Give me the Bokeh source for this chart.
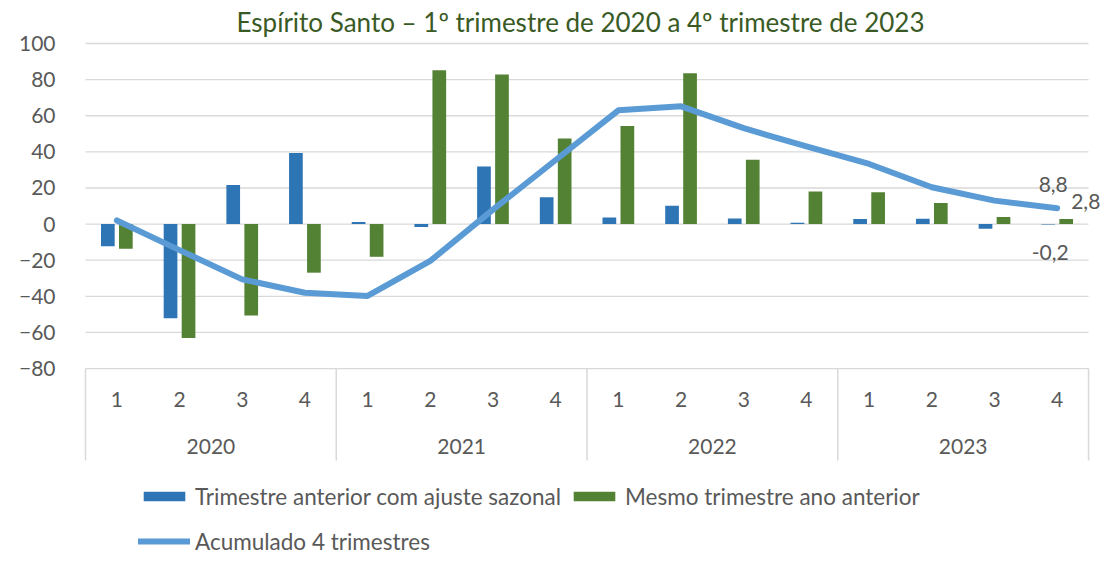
import numpy as np
from bokeh.plotting import figure
from bokeh.models import Range1d, FixedTicker, Legend, LegendItem, Label
from bokeh.core.properties import value
from bokeh.embed import file_html
from bokeh.resources import INLINE

# ---------------- data ----------------
years = ["2020", "2021", "2022", "2023"]
quarters = ["1", "2", "3", "4"]
tri_anterior = [-12.2, -52.2, 21.7, 39.3,
                1.1, -1.6, 31.9, 14.8,
                3.7, 10.2, 3.1, 0.7,
                2.8, 3.0, -2.6, -0.2]
mesmo_tri = [-13.7, -63.0, -50.6, -26.9,
             -18.1, 85.2, 82.8, 47.4,
             54.3, 83.5, 35.7, 18.1,
             17.6, 11.7, 4.0, 2.8]
acumulado = [2.0, -14.4, -30.6, -38.0,
             -39.8, -20.4, 8.0, 35.5,
             63.0, 65.2, 53.1, 43.0,
             33.3, 20.4, 13.0, 8.8]
y_ticks = [-80, -60, -40, -20, 0, 20, 40, 60, 80, 100]
series_names = ["Trimestre anterior com ajuste sazonal",
                "Mesmo trimestre ano anterior",
                "Acumulado 4 trimestres"]
title_text = "Espírito Santo – 1º trimestre de 2020 a 4º trimestre de 2023"

# ---------------- style ----------------
BLUE = "#2E75B6"
GREEN = "#548235"
LINE = "#5B9BD5"
TXT = "#595959"
GRID = "#D9D9D9"
FONT = "Lato"
PX_PER_UNIT = 1.806      # vertical pixels per value unit
PX_PER_CAT = 62.69       # horizontal pixels per category

n_q = len(quarters)
n = len(years) * n_q
xs = np.arange(1, n + 1)
cat_labels = [q for _ in years for q in quarters]

W, H = 1103, 566
top_border, left_border, right_border = 38, 82, 0
frame_h = H - top_border
frame_w = W - left_border - right_border

y_min_tick = min(y_ticks)
y_end = max(y_ticks) + 5 / PX_PER_UNIT
y_start = y_end - frame_h / PX_PER_UNIT
x_start = 0.5 - 3 / PX_PER_CAT
x_end = x_start + frame_w / PX_PER_CAT

# positions below the -80 axis line (layout, in value units)
q_label_y = y_min_tick - 31 / PX_PER_UNIT
yr_label_y = y_min_tick - 78 / PX_PER_UNIT
sep_bottom = y_min_tick - 92 / PX_PER_UNIT

p = figure(width=W, height=H, output_backend="svg", toolbar_location=None,
           x_range=Range1d(x_start, x_end), y_range=Range1d(y_start, y_end),
           x_axis_location=None, min_border_top=top_border,
           min_border_left=left_border, min_border_right=right_border,
           min_border_bottom=0)
p.outline_line_color = None
p.background_fill_color = "white"
p.border_fill_color = "white"

p.title.text = title_text
p.title.align = "left"
p.title.offset = 154
p.title.text_font = FONT
p.title.text_font_size = "26px"
p.title.text_font_style = "normal"
p.title.text_color = "#3A5A25"
p.title.standoff = 2

p.xgrid.visible = False
p.ygrid.visible = False
# horizontal gridlines spanning the category area
p.segment(x0=[0.5] * len(y_ticks), y0=y_ticks, x1=[n + 0.5] * len(y_ticks), y1=y_ticks,
          line_color=GRID, line_width=1.3)

yax = p.yaxis[0]
yax.ticker = FixedTicker(ticks=y_ticks)
yax.axis_line_color = None
yax.major_tick_line_color = None
yax.minor_tick_line_color = None
yax.major_label_standoff = 21
yax.major_label_text_font = FONT
yax.major_label_text_font_size = "21px"
yax.major_label_text_color = TXT

bar_w = 13.7 / PX_PER_CAT
off = 9 / PX_PER_CAT
r_blue = p.vbar(x=xs - off, top=tri_anterior, bottom=0, width=bar_w,
                fill_color=BLUE, line_color=None)
r_green = p.vbar(x=xs + off, top=mesmo_tri, bottom=0, width=bar_w,
                 fill_color=GREEN, line_color=None)
r_line = p.line(x=xs, y=acumulado, line_color=LINE, line_width=6,
                line_join="round", line_cap="round")

# category axis: separators, quarter & year labels
seps = [0.5 + i * n_q for i in range(len(years) + 1)]
p.segment(x0=seps, y0=[y_min_tick] * len(seps), x1=seps, y1=[sep_bottom] * len(seps),
          line_color=GRID, line_width=1.5)
p.text(x=xs, y=[q_label_y] * n, text=cat_labels, text_align="center",
       text_baseline="middle", text_font=value(FONT), text_font_size="21px",
       text_color=TXT)
yr_x = [n_q * i + (n_q + 1) / 2 for i in range(len(years))]
p.text(x=yr_x, y=[yr_label_y] * len(years), text=years, text_align="center",
       text_baseline="middle", text_font=value(FONT), text_font_size="21px",
       text_color=TXT)

# end data labels
def fmt(v):
    return f"{v:.1f}".replace(".", ",")

lab_kw = dict(text_font=FONT, text_font_size="21px", text_color=TXT,
              text_baseline="middle")
p.add_layout(Label(x=xs[-1], y=acumulado[-1], text=fmt(acumulado[-1]),
                   x_offset=-4, y_offset=24, text_align="center", **lab_kw))
p.add_layout(Label(x=xs[-1] + off, y=mesmo_tri[-1], text=fmt(mesmo_tri[-1]),
                   x_offset=5, y_offset=18, text_align="left", **lab_kw))
p.add_layout(Label(x=xs[-1] - off, y=tri_anterior[-1], text=fmt(tri_anterior[-1]),
                   x_offset=2, y_offset=-28, text_align="center", **lab_kw))

legend = Legend(items=[LegendItem(label=series_names[0], renderers=[r_blue]),
                       LegendItem(label=series_names[1], renderers=[r_green]),
                       LegendItem(label=series_names[2], renderers=[r_line])],
                orientation="horizontal", ncols=2,
                location=(56, 6), padding=0, margin=0, spacing=7,
                glyph_width=52, glyph_height=12, label_height=38,
                label_standoff=5, label_text_font=FONT,
                label_text_font_size="22.5px", label_text_color=TXT,
                border_line_color=None, background_fill_alpha=0)
p.add_layout(legend, "center")

open("out.html", "w").write(file_html(p, INLINE))
